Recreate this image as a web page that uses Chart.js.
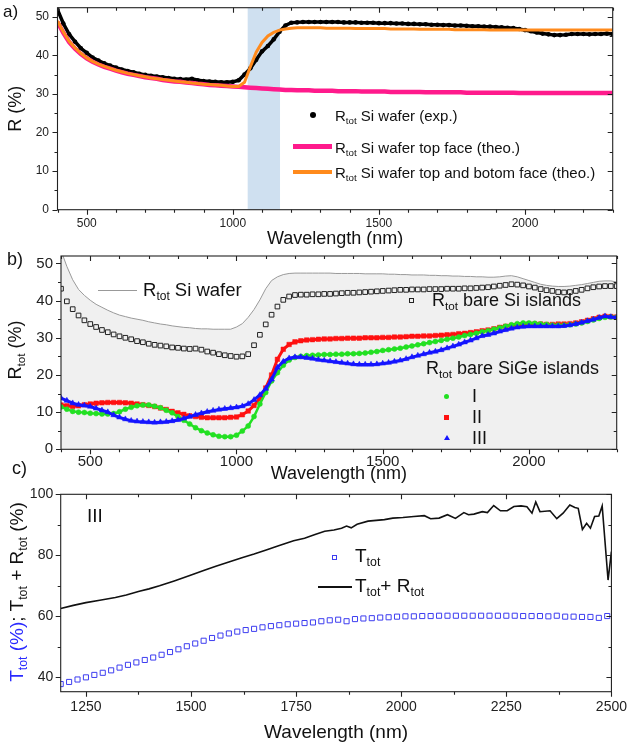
<!DOCTYPE html>
<html>
<head>
<meta charset="utf-8">
<script src="https://cdn.jsdelivr.net/npm/chart.js@4.4.1/dist/chart.umd.min.js"></script>
<style>
  body { margin: 0; background: #fff; }
  #wrap { position: relative; width: 629px; height: 747px; overflow: hidden; font-family: 'Liberation Sans', Arial, sans-serif; color: #111; }
  canvas { position: absolute; left: 0; }
  .t { position: absolute; white-space: nowrap; line-height: 1; transform: translateY(-50%); }
  .rot { position: absolute; white-space: nowrap; line-height: 1; transform: translate(-50%, -50%) rotate(-90deg); }
  sub { font-size: 0.65em; vertical-align: -0.35em; line-height: 0; }
  .sym { position: absolute; box-sizing: border-box; }
</style>
</head>
<body>
<div id="wrap">
  <canvas id="ca" width="629" height="253" style="top:-3px"></canvas>
  <canvas id="cb" width="629" height="241" style="top:244px"></canvas>
  <canvas id="cc" width="629" height="267" style="top:480px"></canvas>

  <!-- panel labels -->
  <div class="t" style="left:3px;top:11px;font-size:17px">a)</div>
  <div class="t" style="left:7px;top:259px;font-size:18px">b)</div>
  <div class="t" style="left:12px;top:468px;font-size:18px">c)</div>

  <!-- legend a -->
  <div class="sym" style="left:310px;top:112px;width:6px;height:6px;border-radius:50%;background:#000"></div>
  <div class="sym" style="left:293px;top:144px;width:39px;height:5px;background:#ff1a8c"></div>
  <div class="sym" style="left:293px;top:170px;width:39px;height:3.5px;background:#ff8a1c"></div>
  <div class="t" style="left:335px;top:115px;font-size:15px">R<sub>tot</sub> Si wafer (exp.)</div>
  <div class="t" style="left:335px;top:147px;font-size:15px">R<sub>tot</sub> Si wafer top face (theo.)</div>
  <div class="t" style="left:335px;top:172px;font-size:15px">R<sub>tot</sub> Si wafer top and botom face (theo.)</div>

  <!-- panel b texts -->
  <div class="rot" style="left:15px;top:350px;font-size:18px">R<sub>tot</sub> (%)</div>
  <div class="sym" style="left:98px;top:289.5px;width:39px;height:1px;background:#999"></div>
  <div class="t" style="left:143px;top:290px;font-size:18.5px">R<sub>tot</sub> Si wafer</div>
  <div class="sym" style="left:409px;top:297.5px;width:5px;height:5px;border:1px solid #222"></div>
  <div class="t" style="left:432px;top:300px;font-size:18px">R<sub>tot</sub> bare Si islands</div>
  <div class="t" style="left:426px;top:368px;font-size:18px">R<sub>tot</sub> bare SiGe islands</div>
  <div class="sym" style="left:444.2px;top:393.5px;width:5px;height:5px;border-radius:50%;background:#22e022"></div>
  <div class="sym" style="left:444.2px;top:414.5px;width:5px;height:5px;background:#ff1111"></div>
  <div class="sym" style="left:443.7px;top:435px;width:0;height:0;border-left:3px solid transparent;border-right:3px solid transparent;border-bottom:5.5px solid #1515ff"></div>
  <div class="t" style="left:472px;top:396px;font-size:18px">I</div>
  <div class="t" style="left:472px;top:417px;font-size:18px">II</div>
  <div class="t" style="left:472px;top:438px;font-size:18px">III</div>

  <!-- panel c texts -->
  <div class="rot" style="left:16px;top:592px;font-size:19px"><span style="color:#2a2aff">T<sub>tot</sub> (%)</span>; T<sub>tot</sub> + R<sub>tot</sub> (%)</div>
  <div class="t" style="left:87px;top:515px;font-size:19px">III</div>
  <div class="sym" style="left:331.5px;top:554.5px;width:5px;height:5px;border:1px solid #3d3df0"></div>
  <div class="t" style="left:355px;top:555px;font-size:19px">T<sub>tot</sub></div>
  <div class="sym" style="left:318px;top:586px;width:34px;height:1.6px;background:#111"></div>
  <div class="t" style="left:355px;top:585px;font-size:19px">T<sub>tot</sub>+ R<sub>tot</sub></div>
</div>

<script>
const FONT = "'Liberation Sans', Arial, sans-serif";

// wavelength grid used by panels a) and b) (nm)
const wavelengths = [400,420,440,460,480,500,520,540,560,580,600,620,640,660,680,700,720,740,760,780,
  800,820,840,860,880,900,920,940,960,980,1000,1020,1040,1060,1080,1100,1120,1140,1160,1180,
  1200,1220,1240,1260,1280,1300,1320,1340,1360,1380,1400,1420,1440,1460,1480,1500,1520,1540,1560,1580,
  1600,1620,1640,1660,1680,1700,1720,1740,1760,1780,1800,1820,1840,1860,1880,1900,1920,1940,1960,1980,
  2000,2020,2040,2060,2080,2100,2120,2140,2160,2180,2200,2220,2240,2260,2280,2300];

// a) Si wafer reflectance
const aExp = [51.8,48.2,45.4,43.5,41.8,40.6,39.4,38.6,37.9,37.3,
  36.8,36.3,35.9,35.6,35.2,34.9,34.7,34.5,34.3,34.1,
  33.9,33.8,33.7,33.9,33.5,33.3,33.2,33.1,33.0,33.0,
  33.1,33.5,35.0,36.6,38.8,41.0,42.4,44.1,46.1,47.7,
  48.4,48.5,48.6,48.6,48.6,48.6,48.6,48.6,48.6,48.5,
  48.5,48.5,48.4,48.4,48.4,48.3,48.3,48.3,48.2,48.2,
  48.1,48.1,48.0,48.0,47.9,47.9,47.8,47.8,47.7,47.7,
  47.6,47.5,47.5,47.4,47.4,47.3,47.2,47.1,47.0,46.8,
  46.5,46.2,45.9,45.6,45.4,45.2,45.2,45.3,45.5,45.5,
  45.5,45.4,45.5,45.5,45.6,45.5];
const aTop = [48.6,45.8,43.4,41.7,40.3,39.2,38.3,37.6,37.0,36.5,
  36.0,35.6,35.2,34.9,34.6,34.3,34.1,33.9,33.6,33.4,
  33.2,33.1,32.9,32.8,32.6,32.5,32.3,32.2,32.1,32.0,
  31.9,31.8,31.7,31.6,31.5,31.4,31.3,31.2,31.1,31.0,
  31.0,30.9,30.9,30.9,30.8,30.8,30.8,30.8,30.7,30.7,
  30.7,30.7,30.6,30.6,30.6,30.6,30.6,30.5,30.5,30.5,
  30.5,30.5,30.5,30.4,30.4,30.4,30.4,30.4,30.4,30.4,
  30.3,30.3,30.3,30.3,30.3,30.3,30.3,30.3,30.3,30.2,
  30.2,30.2,30.2,30.2,30.2,30.2,30.2,30.2,30.2,30.2,
  30.2,30.2,30.2,30.2,30.2,30.2];
const aBoth = [48.9,46.0,43.6,41.9,40.5,39.3,38.4,37.7,37.1,36.6,
  36.1,35.7,35.3,35.0,34.7,34.4,34.1,33.9,33.7,33.5,
  33.3,33.1,33.0,32.8,32.7,32.5,32.4,32.3,32.2,32.0,
  31.9,31.9,33.0,37.0,40.8,43.3,45.0,45.9,46.5,46.8,
  47.0,47.1,47.1,47.1,47.1,47.1,47.0,47.0,47.0,47.0,
  47.0,46.9,46.9,46.9,46.9,46.9,46.9,46.8,46.8,46.8,
  46.8,46.8,46.7,46.7,46.7,46.7,46.7,46.7,46.6,46.6,
  46.6,46.6,46.6,46.6,46.5,46.5,46.5,46.5,46.5,46.5,
  46.5,46.5,46.5,46.5,46.5,46.5,46.5,46.5,46.5,46.5,
  46.5,46.5,46.5,46.5,46.5,46.5];
const bandNm = [1050, 1162];

// b) islands reflectance
const bWafer = [53.5,49.2,45.6,43.0,41.4,40.1,39.0,38.2,37.4,36.7,
  36.1,35.7,35.3,35.0,34.7,34.3,34.0,33.7,33.5,33.2,
  33.0,32.8,32.7,32.5,32.4,32.4,32.3,32.3,32.3,32.3,
  32.9,33.8,35.5,37.6,40.2,43.2,45.4,46.4,47.0,47.3,
  47.4,47.4,47.4,47.4,47.4,47.4,47.4,47.3,47.3,47.3,
  47.3,47.3,47.2,47.2,47.2,47.2,47.1,47.1,47.0,47.0,
  46.9,46.9,46.9,46.8,46.8,46.7,46.7,46.6,46.6,46.5,
  46.5,46.4,46.4,46.3,46.3,46.4,46.6,46.7,46.4,45.9,
  45.4,44.9,44.4,44.1,43.9,43.8,43.8,43.9,44.1,44.3,
  44.6,44.9,45.2,45.3,45.3,45.0];
const bSi = [43.2,39.8,37.7,36.0,34.7,33.7,32.9,32.1,31.5,30.9,
  30.4,30.0,29.6,29.1,28.8,28.4,28.1,27.9,27.7,27.4,
  27.3,27.1,27.0,27.1,26.8,26.3,26.0,25.6,25.3,25.1,
  24.9,25.0,25.6,28.0,30.8,33.6,36.2,38.4,40.2,41.1,
  41.5,41.6,41.6,41.7,41.7,41.8,41.8,41.9,42.0,42.1,
  42.1,42.2,42.3,42.4,42.5,42.6,42.7,42.8,42.9,42.9,
  43.0,43.0,43.0,43.1,43.1,43.1,43.2,43.2,43.2,43.3,
  43.3,43.4,43.5,43.6,43.8,44.0,44.2,44.4,44.3,44.1,
  43.8,43.5,43.1,42.8,42.6,42.3,42.2,42.3,42.6,42.9,
  43.3,43.6,43.8,43.9,43.9,43.9];
const bI = [11.4,10.8,10.2,10.0,9.9,9.7,9.6,9.5,9.5,9.6,
  10.1,10.8,11.3,11.7,11.9,11.9,11.6,11.2,10.5,9.8,
  8.8,7.8,6.8,5.8,5.0,4.4,3.9,3.5,3.4,3.4,
  3.8,4.9,6.3,8.8,12.2,15.3,18.4,20.6,22.6,24.0,
  24.7,25.0,25.2,25.3,25.4,25.5,25.5,25.6,25.6,25.7,
  25.7,25.8,25.9,26.1,26.3,26.6,26.8,27.0,27.2,27.5,
  27.8,28.1,28.4,28.7,29.0,29.3,29.6,29.9,30.2,30.6,
  30.9,31.2,31.6,31.9,32.3,32.7,33.1,33.5,33.8,34.0,
  34.0,33.9,33.7,33.6,33.4,33.4,33.4,33.5,33.7,34.0,
  34.4,34.8,35.2,35.5,35.6,35.5];
const bII = [11.9,11.7,11.5,11.7,12.0,12.2,12.4,12.5,12.6,12.6,
  12.6,12.5,12.4,12.2,12.0,11.8,11.5,11.1,10.7,10.2,
  9.8,9.4,9.0,8.8,8.6,8.5,8.5,8.5,8.5,8.6,
  8.7,9.3,10.3,11.8,13.7,16.5,20.0,24.2,26.9,28.2,
  28.9,29.2,29.4,29.5,29.6,29.7,29.7,29.8,29.8,29.9,
  29.9,29.9,30.0,30.0,30.0,30.1,30.1,30.2,30.2,30.3,
  30.4,30.4,30.5,30.5,30.6,30.7,30.8,30.9,31.1,31.2,
  31.4,31.6,31.9,32.1,32.4,32.8,33.1,33.3,33.5,33.6,
  33.7,33.7,33.7,33.6,33.6,33.7,33.7,33.8,34.0,34.3,
  34.7,35.1,35.5,35.8,35.7,35.6];
const bIII = [13.8,13.1,12.4,12.0,11.8,11.5,11.0,10.5,10.0,9.2,
  8.6,8.1,7.7,7.5,7.4,7.3,7.2,7.3,7.4,7.6,
  7.9,8.3,8.8,9.3,9.7,10.1,10.4,10.7,10.9,11.1,
  11.3,11.6,12.2,13.3,14.6,16.3,18.8,22.0,23.6,24.5,
  24.8,24.8,24.6,24.4,24.1,23.9,23.7,23.5,23.3,23.1,
  22.9,22.8,22.8,22.8,22.9,23.1,23.3,23.6,23.9,24.3,
  24.8,25.2,25.6,26.0,26.3,26.7,27.2,27.7,28.2,28.8,
  29.3,29.9,30.5,30.8,31.2,31.7,32.1,32.5,32.8,33.0,
  33.1,33.1,33.1,33.1,33.1,33.1,33.2,33.4,33.7,34.1,
  34.5,34.9,35.4,35.8,35.6,35.5];

// c) transmission of sample III
const cWl = [1190,1210,1230,1250,1270,1290,1310,1330,1350,1370,
  1390,1410,1430,1450,1470,1490,1510,1530,1550,1570,
  1590,1610,1630,1650,1670,1690,1710,1730,1750,1770,
  1790,1810,1830,1850,1870,1890,1910,1930,1950,1970,
  1990,2010,2030,2050,2070,2090,2110,2130,2150,2170,
  2190,2210,2230,2250,2270,2290,2310,2330,2350,2370,
  2390,2410,2430,2450,2470,2490];
const cT = [37.8,38.5,39.3,40.0,40.8,41.5,42.3,43.2,44.1,44.9,
  45.7,46.5,47.4,48.3,49.2,50.2,51.1,52.0,52.9,53.7,
  54.4,55.0,55.5,55.9,56.4,56.8,57.1,57.4,57.6,57.8,
  58.0,58.4,58.7,58.9,58.4,59.1,59.3,59.4,59.6,59.7,
  59.9,60.0,60.0,60.1,60.1,60.2,60.2,60.2,60.2,60.2,
  60.2,60.2,60.2,60.2,60.2,60.1,60.1,60.1,60.0,60.2,
  59.9,59.9,59.8,59.8,59.5,60.1];
const cSumWl = [1190,1220,1250,1283,1320,1346,1377,1400,1425,1460,1497,1530,1559,1590,1621,1650,1677,1710,1744,1770,
  1795,1818,1840,1858,1870,1881,1895,1921,1960,1980,2004,2030,2055,2070,2090,2110,2129,2149,2160,2173,
  2193,2205,2220,2236,2252,2268,2285,2299,2311,2320,2330,2354,2370,2385,2401,2413,2421,2431,2441,2450,
  2460,2470,2478,2492,2500];
const cSum = [62.6,63.6,64.5,65.3,66.2,67.0,68.2,69.0,70.0,71.6,73.4,75.0,76.4,77.8,79.2,80.4,81.7,83.2,84.8,85.6,
  86.8,87.9,88.3,88.9,89.6,89.0,90.2,91.2,91.7,92.2,92.4,92.7,93.0,92.0,92.2,93.3,92.1,94.0,93.3,93.5,
  94.3,94.0,96.3,94.6,94.6,96.0,96.2,95.9,93.8,97.5,94.3,94.6,92.0,93.8,96.5,95.7,95.4,88.5,90.5,88.9,
  92.7,92.9,96.2,71.9,81.2];

// tick labels
const abTicksX = [500, 1000, 1500, 2000];
const abTicksY = [0, 10, 20, 30, 40, 50];
const cTicksX = [1250, 1500, 1750, 2000, 2250, 2500];
const cTicksY = [40, 60, 80, 100];

const pts = (xs, ys) => xs.map((x, i) => ({ x: x, y: ys[i] }));

// frame with origin-style ticks: out on bottom/left, in on top/right
const frameTicks = {
  id: 'frameTicks',
  afterDatasetsDraw(chart, args, o) {
    const { ctx, chartArea: ca, scales: { x, y } } = chart;
    ctx.save();
    ctx.strokeStyle = '#222';
    ctx.lineWidth = 1.1;
    ctx.strokeRect(ca.left, ca.top, ca.right - ca.left, ca.bottom - ca.top);
    ctx.beginPath();
    for (let v = Math.ceil(x.min / o.xMinor) * o.xMinor; v <= x.max; v += o.xMinor) {
      const p = Math.round(x.getPixelForValue(v)) + 0.5;
      const len = v % o.xMajor === 0 ? 5 : 3;
      ctx.moveTo(p, ca.bottom); ctx.lineTo(p, ca.bottom + len);
      ctx.moveTo(p, ca.top); ctx.lineTo(p, ca.top + len);
    }
    for (let v = Math.ceil(y.min / o.yMinor) * o.yMinor; v <= y.max; v += o.yMinor) {
      const p = Math.round(y.getPixelForValue(v)) + 0.5;
      const len = v % o.yMajor === 0 ? 5 : 3;
      ctx.moveTo(ca.left, p); ctx.lineTo(ca.left - len, p);
      ctx.moveTo(ca.right, p); ctx.lineTo(ca.right - len, p);
    }
    ctx.stroke();
    ctx.restore();
  }
};

function axes(o) {
  return {
    x: {
      type: 'linear', min: o.xMin, max: o.xMax,
      afterBuildTicks: s => { s.ticks = o.xTicks.map(v => ({ value: v })); },
      afterFit: s => { s.height = o.xH; },
      grid: { drawOnChartArea: false, color: 'transparent', tickLength: o.xTl },
      border: { display: false },
      ticks: { padding: o.xPad, color: '#222', maxRotation: 0, autoSkip: false,
        font: { size: o.xFont, family: FONT }, callback: v => v },
      title: { display: true, text: 'Wavelength (nm)', color: '#111',
        font: { size: o.titleFont, family: FONT }, padding: { top: 0, bottom: o.titlePad } }
    },
    y: {
      min: o.yMin, max: o.yMax,
      afterBuildTicks: s => { s.ticks = o.yTicks.map(v => ({ value: v })); },
      afterFit: s => { s.width = o.yW; },
      grid: { drawOnChartArea: false, color: 'transparent', tickLength: o.yTl },
      border: { display: false },
      ticks: { padding: o.yPad, color: '#222', font: { size: o.yFont, family: FONT }, callback: v => v },
      title: o.yTitle ? { display: true, text: o.yTitle, color: '#111',
        font: { size: o.titleFont, family: FONT }, padding: { top: o.yTitlePad, bottom: 0 } } : { display: false }
    }
  };
}

const common = {
  responsive: false, animation: false, events: [], devicePixelRatio: 1
};

// ---------- a) ----------
new Chart(document.getElementById('ca'), {
  type: 'line',
  data: {
    datasets: [
      { data: pts(bandNm, [52.3, 52.3]), fill: 'origin', backgroundColor: '#cfe0f0',
        borderWidth: 0, pointRadius: 0, order: 4 },
      { data: pts(wavelengths, aExp), borderColor: '#000', borderWidth: 3.5, backgroundColor: '#000',
        pointRadius: 2.3, pointBorderWidth: 0, order: 3 },
      { data: pts(wavelengths, aTop), borderColor: '#ff1a8c', borderWidth: 4.5, pointRadius: 0, order: 2 },
      { data: pts(wavelengths, aBoth), borderColor: '#ff8a1c', borderWidth: 3, pointRadius: 0, order: 1 }
    ]
  },
  options: {
    ...common,
    layout: { padding: { left: 0, top: 9.7, right: 16.3, bottom: 0 } },
    plugins: { legend: { display: false }, tooltip: { enabled: false },
      frameTicks: { xMinor: 100, xMajor: 500, yMinor: 5, yMajor: 10 } },
    scales: axes({ xMin: 400, xMax: 2300, xTicks: abTicksX, xH: 40.3, xTl: 5, xPad: 2, xFont: 12,
      yMin: 0, yMax: 52.3, yTicks: abTicksY, yW: 57.5, yTl: 5, yPad: 3.5, yFont: 12,
      titleFont: 18, titlePad: 0, yTitle: 'R (%)', yTitlePad: 5 })
  },
  plugins: [frameTicks]
});

// ---------- b) ----------
new Chart(document.getElementById('cb'), {
  type: 'line',
  data: {
    datasets: [
      { data: pts(wavelengths, bWafer), fill: 'origin', backgroundColor: '#f0f0f0',
        borderColor: '#9a9a9a', borderWidth: 1, pointRadius: 0, order: 6 },
      { data: pts(wavelengths, bSi), showLine: false, pointStyle: 'rect', pointRadius: 3.3,
        pointBorderColor: '#222', pointBackgroundColor: 'rgba(0,0,0,0)', pointBorderWidth: 1, order: 5 },
      { data: pts(wavelengths, bII), borderColor: '#ff1111', borderWidth: 3, pointStyle: 'rect', pointRadius: 3.2,
        pointBorderColor: '#ff1111', pointBackgroundColor: '#ff1111', pointBorderWidth: 0.5, order: 3 },
      { data: pts(wavelengths, bI), borderColor: '#22e022', borderWidth: 2.5, pointStyle: 'circle', pointRadius: 2.5,
        pointBorderColor: '#22e022', pointBackgroundColor: '#22e022', pointBorderWidth: 0.5, order: 2 },
      { data: pts(wavelengths, bIII), borderColor: '#1515ff', borderWidth: 3, pointStyle: 'triangle', pointRadius: 3.3,
        pointBorderColor: '#1515ff', pointBackgroundColor: '#1515ff', pointBorderWidth: 0.5, order: 1 }
    ]
  },
  options: {
    ...common,
    layout: { padding: { left: 0, top: 11.7, right: 12.3, bottom: 0 } },
    plugins: { legend: { display: false }, tooltip: { enabled: false },
      frameTicks: { xMinor: 100, xMajor: 500, yMinor: 5, yMajor: 10 } },
    scales: axes({ xMin: 400, xMax: 2300, xTicks: abTicksX, xH: 35.7, xTl: 4, xPad: 0, xFont: 15,
      yMin: 0, yMax: 52, yTicks: abTicksY, yW: 61, yTl: 5, yPad: 3, yFont: 15,
      titleFont: 18, titlePad: 0 })
  },
  plugins: [frameTicks]
});

// ---------- c) ----------
new Chart(document.getElementById('cc'), {
  type: 'line',
  data: {
    datasets: [
      { data: pts(cSumWl, cSum), borderColor: '#111', borderWidth: 1.6, pointRadius: 0, order: 1 },
      { data: pts(cWl, cT), showLine: false, pointStyle: 'rect', pointRadius: 3.6,
        pointBorderColor: '#3d3df0', pointBackgroundColor: 'rgba(0,0,0,0)', pointBorderWidth: 1, order: 2 }
    ]
  },
  options: {
    ...common,
    layout: { padding: { left: 0, top: 14.3, right: 14, bottom: 0 } },
    plugins: { legend: { display: false }, tooltip: { enabled: false },
      frameTicks: { xMinor: 125, xMajor: 250, yMinor: 10, yMajor: 20 } },
    scales: axes({ xMin: 1190, xMax: 2500, xTicks: cTicksX, xH: 55.3, xTl: 5, xPad: 2, xFont: 14,
      yMin: 35.3, yMax: 100, yTicks: cTicksY, yW: 60.7, yTl: 4, yPad: 3.5, yFont: 14,
      titleFont: 19, titlePad: 2.6 })
  },
  plugins: [frameTicks]
});
</script>
</body>
</html>
